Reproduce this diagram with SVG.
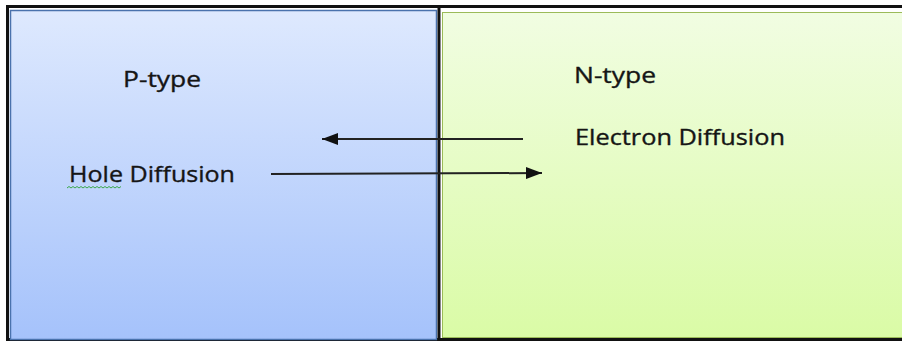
<svg xmlns="http://www.w3.org/2000/svg" width="902" height="341" viewBox="0 0 902 341">
<style>
.lbl{font-family:"Open Sans","Liberation Sans",sans-serif;font-size:22px;fill:#151515;stroke:#151515;stroke-width:0.35}
.arr{stroke:#222;stroke-width:2;fill:none;marker-end:url(#ah)}
</style>
<defs>
<linearGradient id="gb" x1="0" y1="0" x2="0" y2="1"><stop offset="0" stop-color="#dee9fe"/><stop offset="1" stop-color="#a5c2fb"/></linearGradient>
<linearGradient id="gg" x1="0" y1="0" x2="0" y2="1"><stop offset="0" stop-color="#f1fde2"/><stop offset="1" stop-color="#dafba6"/></linearGradient>
<marker id="ah" markerWidth="8" markerHeight="6" refX="8" refY="3" orient="auto" markerUnits="strokeWidth"><path d="M0,0 L8,3 L0,6 z" fill="#111"/></marker>
</defs>
<rect x="0" y="0" width="902" height="341" fill="#ffffff"/>
<rect x="7.5" y="6.5" width="900" height="333" fill="none" stroke="#111" stroke-width="3"/>
<g id="ptype">
<rect x="10.5" y="10.5" width="426" height="329" fill="url(#gb)" stroke="#4a72ad" stroke-width="1.5"/>
<text class="lbl" x="123" y="87" textLength="78" lengthAdjust="spacingAndGlyphs">P-type</text>
<text class="lbl" x="69" y="182" textLength="166" lengthAdjust="spacingAndGlyphs">Hole Diffusion</text>
<path d="M67,188 l2,-1.5 l2,1.5 l2,-1.5 l2,1.5 l2,-1.5 l2,1.5 l2,-1.5 l2,1.5 l2,-1.5 l2,1.5 l2,-1.5 l2,1.5 l2,-1.5 l2,1.5 l2,-1.5 l2,1.5 l2,-1.5 l2,1.5 l2,-1.5 l2,1.5 l2,-1.5 l2,1.5 l2,-1.5 l2,1.5 l2,-1.5 l2,1.5 l2,-1.5" fill="none" stroke="#3aa84a" stroke-width="1"/>
</g>
<line x1="439" y1="8" x2="439" y2="341" stroke="#111" stroke-width="3"/>
<g id="ntype">
<rect x="442.5" y="12.5" width="470" height="325" fill="url(#gg)" stroke="#9bbb59" stroke-width="1"/>
<text class="lbl" x="574" y="83" textLength="82" lengthAdjust="spacingAndGlyphs">N-type</text>
<text class="lbl" x="575" y="145" textLength="210" lengthAdjust="spacingAndGlyphs">Electron Diffusion</text>
</g>
<g id="connectors">
<line class="arr" x1="523" y1="139" x2="322" y2="139"/>
<line class="arr" x1="271" y1="174" x2="542" y2="173"/>
</g>
</svg>
